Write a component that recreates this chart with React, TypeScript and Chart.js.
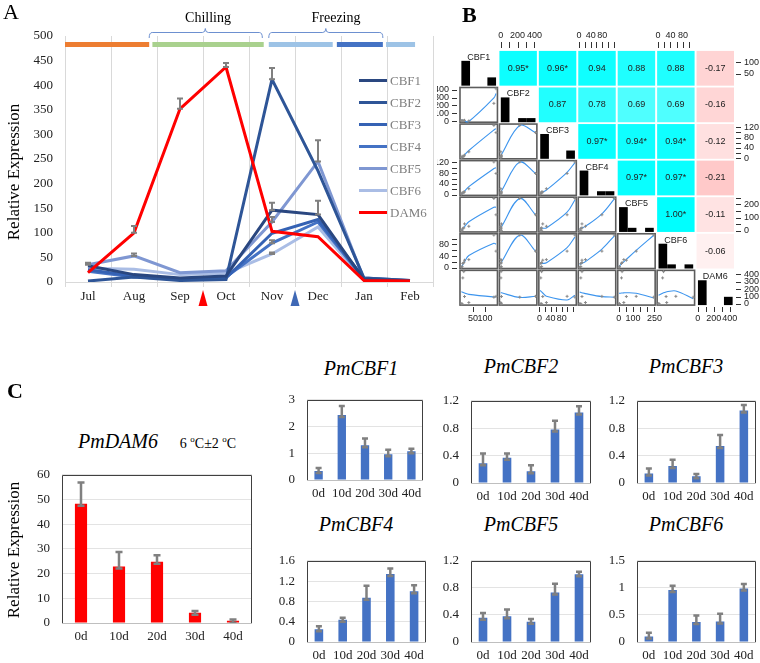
import React, { useEffect, useRef } from 'react';
import { Chart, registerables } from 'chart.js';

Chart.register(...registerables);

const SERIF = '"Liberation Serif", "Times New Roman", serif';
const SANS = '"Liberation Sans", Arial, sans-serif';

// ---------------- Panel A data ----------------
const months = ['Jul', 'Aug', 'Sep', 'Oct', 'Nov', 'Dec', 'Jan', 'Feb'];
const cbf1 = [33, 15, 8, 12, 146, 137, 5, 2];
const cbf2 = [2, 10, 3, 5, 412, 226, 8, 3];
const cbf3 = [25, 12, 5, 8, 99, 127, 8, 3];
const cbf4 = [22, 10, 6, 10, 79, 122, 6, 2];
const cbf5 = [35, 53, 19, 23, 122, 245, 5, 2];
const cbf6 = [28, 26, 15, 18, 57, 112, 4, 2];
const dam6 = [19, 100, 352, 437, 103, 92, 3, 2];

const cbf1Err = [0, 0, 0, 0, 15, 28, 0, 0];
const cbf2Err = [0, 0, 0, 0, 23, 0, 0, 0];
const cbf3Err = [0, 0, 0, 0, 0, 0, 0, 0];
const cbf4Err = [0, 0, 0, 0, 6, 0, 0, 0];
const cbf5Err = [4, 5, 0, 0, 10, 43, 0, 0];
const cbf6Err = [0, 0, 0, 0, 3, 0, 0, 0];
const dam6Err = [0, 14, 21, 8, 0, 0, 0, 0];

const seriesNames = ['CBF1', 'CBF2', 'CBF3', 'CBF4', 'CBF5', 'CBF6', 'DAM6'];
const seriesColors = ['#2A4780', '#2E5597', '#3562B4', '#4472C4', '#7F97D2', '#AABDE5', '#FF0000'];

const periodStarts = [-0.5, 1.4, 3.93, 5.41, 6.48];
const periodEnds = [1.33, 3.82, 5.32, 6.41, 7.11];
const periodColors = ['#ED7D31', '#A9D18E', '#9DC3E6', '#4472C4', '#9DC3E6'];
const bracketStarts = [1.33, 3.93];
const bracketEnds = [3.79, 6.41];
const bracketPeaks = [2.55, 5.17];
const markerPositions = [2.5, 4.5];
const markerColors = ['#FF0000', '#3F68B5'];

// ---------------- Panel B data ----------------
const corrRow1 = ['0.95*', '0.96*', '0.94', '0.88', '0.88', '-0.17'];
const corrRow2 = ['0.87', '0.78', '0.69', '0.69', '-0.16'];
const corrRow3 = ['0.97*', '0.94*', '0.94*', '-0.12'];
const corrRow4 = ['0.97*', '0.97*', '-0.21'];
const corrRow5 = ['1.00*', '-0.11'];
const corrRow6 = ['-0.06'];
const corrRows = [corrRow1, corrRow2, corrRow3, corrRow4, corrRow5, corrRow6];

const histCBF1 = [6, 0, 0, 2];
const histCBF2 = [6, 0, 1, 1];
const histCBF3 = [6, 0, 0, 2];
const histCBF4 = [6, 0, 1, 1];
const histCBF5 = [6, 1, 0, 1];
const histCBF6 = [6, 1, 0, 1];
const histDAM6 = [6, 0, 0, 2];
const histCounts = [histCBF1, histCBF2, histCBF3, histCBF4, histCBF5, histCBF6, histDAM6];

const topAxisCols = [1, 3, 5];
const topAxisTicks = [[0, 100, 200, 300, 400], [0, 20, 40, 60, 80, 100, 120], [0, 20, 40, 60, 80, 100]];
const topAxisLabels = [[0, 200, 400], [0, 40, 80], [0, 40, 80]];
const bottomAxisCols = [0, 2, 4, 6];
const bottomAxisTicks = [[50, 100], [0, 20, 40, 60, 80, 100, 120], [0, 50, 100, 150, 200, 250], [0, 100, 200, 300, 400]];
const bottomAxisLabels = [[50, 100], [0, 40, 80], [0, 100, 250], [0, 200, 400]];
const leftAxisRows = [1, 3, 5];
const leftAxisTicks = [[0, 100, 200, 300, 400], [0, 20, 40, 60, 80, 100, 120], [0, 20, 40, 60, 80, 100]];
const leftAxisLabels = [[0, 100, 200, 300, 400], [0, 40, 80, 120], [0, 40, 80]];
const rightAxisRows = [0, 2, 4, 6];
const rightAxisTicks = [[50, 100], [0, 20, 40, 60, 80, 100, 120], [0, 50, 100, 150, 200, 250], [0, 100, 200, 300, 400]];
const rightAxisLabels = [[50, 100], [0, 40, 80, 120], [0, 100, 200], [0, 100, 200, 300, 400]];

// ---------------- Panel C data ----------------
const days = ['0d', '10d', '20d', '30d', '40d'];
const pmDAM6 = [48.3, 22.9, 24.8, 4.1, 0.9];
const pmDAM6Err = [8.6, 5.8, 2.6, 0.8, 0.5];
const pmCBF1 = [0.34, 2.43, 1.3, 0.96, 1.08];
const pmCBF1Err = [0.11, 0.34, 0.25, 0.17, 0.09];
const pmCBF2 = [0.29, 0.37, 0.17, 0.78, 1.03];
const pmCBF2Err = [0.14, 0.06, 0.09, 0.13, 0.09];
const pmCBF3 = [0.14, 0.25, 0.1, 0.54, 1.06];
const pmCBF3Err = [0.07, 0.09, 0.03, 0.16, 0.08];
const pmCBF4 = [0.25, 0.44, 0.87, 1.34, 1.0];
const pmCBF4Err = [0.06, 0.04, 0.24, 0.11, 0.12];
const pmCBF5 = [0.36, 0.38, 0.3, 0.73, 1.0];
const pmCBF5Err = [0.07, 0.1, 0.04, 0.13, 0.04];
const pmCBF6 = [0.1, 0.96, 0.37, 0.38, 0.99];
const pmCBF6Err = [0.07, 0.08, 0.12, 0.14, 0.08];

// ---------------- plugins ----------------
const errorBarPlugin = {
  id: 'errorBars',
  afterDatasetsDraw(chart: any) {
    const { ctx } = chart;
    const ys = chart.scales.y;
    chart.data.datasets.forEach((ds: any, di: number) => {
      if (!ds.err) return;
      const meta = chart.getDatasetMeta(di);
      ctx.save();
      ctx.strokeStyle = '#808080';
      ctx.lineWidth = ds.errWidth || 2;
      meta.data.forEach((el: any, i: number) => {
        const e = ds.err[i];
        if (!e) return;
        const v = ds.data[i];
        const x = el.x;
        const y0 = ys.getPixelForValue(v) + (ds.errBase || 0);
        const y1 = ys.getPixelForValue(v + e);
        const cw = ds.capHalf || 3;
        ctx.beginPath();
        ctx.moveTo(x, y0);
        ctx.lineTo(x, y1);
        ctx.moveTo(x - cw, y1);
        ctx.lineTo(x + cw, y1);
        ctx.moveTo(x - cw, y0);
        ctx.lineTo(x + cw, y0);
        ctx.stroke();
      });
      ctx.restore();
    });
  },
};

const boxPlugin = {
  id: 'box',
  afterDraw(chart: any) {
    const { ctx, chartArea: a } = chart;
    ctx.save();
    ctx.lineWidth = 1;
    ctx.strokeStyle = '#BFBFBF';
    ctx.beginPath();
    ctx.moveTo(a.left, Math.round(a.bottom) + 0.5);
    ctx.lineTo(a.right, Math.round(a.bottom) + 0.5);
    ctx.stroke();
    ctx.strokeStyle = '#404040';
    ctx.beginPath();
    ctx.moveTo(Math.round(a.left) + 0.5, a.bottom);
    ctx.lineTo(Math.round(a.left) + 0.5, Math.round(a.top) + 0.5);
    ctx.lineTo(Math.round(a.right) - 0.5, Math.round(a.top) + 0.5);
    ctx.lineTo(Math.round(a.right) - 0.5, a.bottom);
    ctx.stroke();
    ctx.restore();
  },
};

const periodPlugin = {
  id: 'periods',
  beforeDatasetsDraw(chart: any) {
    const { ctx, chartArea } = chart;
    const xs = chart.scales.x;
    const top = chartArea.top;
    ctx.save();
    periodStarts.forEach((s, i) => {
      const x0 = xs.getPixelForValue(s);
      const x1 = xs.getPixelForValue(periodEnds[i]);
      ctx.fillStyle = periodColors[i];
      ctx.fillRect(x0, top + 6, x1 - x0, 5);
    });
    ctx.strokeStyle = '#6D90D0';
    ctx.lineWidth = 1;
    bracketStarts.forEach((s, i) => {
      const x0 = xs.getPixelForValue(s);
      const x1 = xs.getPixelForValue(bracketEnds[i]);
      const xm = xs.getPixelForValue(bracketPeaks[i]);
      const yb = top - 3.5;
      ctx.beginPath();
      ctx.moveTo(x0, top + 2);
      ctx.quadraticCurveTo(x0, yb, x0 + 3, yb);
      ctx.lineTo(xm - 3, yb);
      ctx.quadraticCurveTo(xm, yb, xm, yb - 4);
      ctx.quadraticCurveTo(xm, yb, xm + 3, yb);
      ctx.lineTo(x1 - 3, yb);
      ctx.quadraticCurveTo(x1, yb, x1, top + 2);
      ctx.stroke();
    });
    ctx.restore();
  },
  afterDraw(chart: any) {
    const { ctx, chartArea } = chart;
    const xs = chart.scales.x;
    ctx.save();
    markerPositions.forEach((p, i) => {
      const x = xs.getPixelForValue(p);
      const y0 = chartArea.bottom + 8;
      const y1 = chartArea.bottom + 24;
      ctx.fillStyle = markerColors[i];
      ctx.beginPath();
      ctx.moveTo(x, y0);
      ctx.lineTo(x + 4.5, y1);
      ctx.lineTo(x - 4.5, y1);
      ctx.closePath();
      ctx.fill();
    });
    ctx.restore();
  },
};

// ---------------- Panel B helpers ----------------
const bSeries = [cbf1, cbf2, cbf3, cbf4, cbf5, cbf6, dam6];
const G = 0.025;
const ranges = bSeries.map((s) => {
  const mn = Math.min(...s);
  const mx = Math.max(...s);
  const d = (mx - mn) * 0.04;
  return { mn, mx, lo: mn - d, hi: mx + d };
});
const frac = (g: number, v: number) => (v - ranges[g].lo) / (ranges[g].hi - ranges[g].lo);
const ux = (c: number, f: number) => c + G + f * (1 - 2 * G);
const uy = (r: number, f: number) => r + G + (1 - f) * (1 - 2 * G);

function quadFit(xs: number[], ys: number[]) {
  const S = [[0, 0, 0], [0, 0, 0], [0, 0, 0]];
  const T = [0, 0, 0];
  xs.forEach((x, k) => {
    const p = [1, x, x * x];
    for (let a = 0; a < 3; a++) {
      for (let b = 0; b < 3; b++) S[a][b] += p[a] * p[b];
      T[a] += p[a] * ys[k];
    }
  });
  const M = S.map((row, i) => [...row, T[i]]);
  for (let i = 0; i < 3; i++) {
    let piv = i;
    for (let r = i + 1; r < 3; r++) if (Math.abs(M[r][i]) > Math.abs(M[piv][i])) piv = r;
    [M[i], M[piv]] = [M[piv], M[i]];
    if (Math.abs(M[i][i]) < 1e-12) return [ys.reduce((a, b) => a + b, 0) / ys.length, 0, 0];
    for (let r = 0; r < 3; r++) {
      if (r === i) continue;
      const f = M[r][i] / M[i][i];
      for (let c = i; c < 4; c++) M[r][c] -= f * M[i][c];
    }
  }
  return [M[0][3] / M[0][0], M[1][3] / M[1][1], M[2][3] / M[2][2]];
}

function corrColor(v: number) {
  const t = Math.min(1, Math.abs(v));
  if (v >= 0) return `rgb(${Math.round(255 * (1 - t))},255,255)`;
  const g = Math.round(255 * (1 - t));
  return `rgb(255,${g},${g})`;
}

const matrixPlugin = {
  id: 'matrix',
  beforeDatasetsDraw(chart: any) {
    const { ctx, chartArea: a } = chart;
    const xs = chart.scales.x;
    const ys = chart.scales.y;
    const X = (u: number) => xs.getPixelForValue(u);
    const Y = (u: number) => ys.getPixelForValue(u);
    const n = 7;
    ctx.save();
    ctx.textAlign = 'center';
    ctx.textBaseline = 'middle';
    for (let r = 0; r < n; r++) {
      for (let c = 0; c < n; c++) {
        const x0 = X(c + G), x1 = X(c + 1 - G), y0 = Y(r + G), y1 = Y(r + 1 - G);
        if (c > r) {
          const lab = corrRows[r][c - r - 1];
          ctx.fillStyle = corrColor(parseFloat(lab));
          ctx.fillRect(x0, y0, x1 - x0, y1 - y0);
          ctx.fillStyle = '#222';
          ctx.font = `9px ${SANS}`;
          ctx.fillText(lab, (x0 + x1) / 2, (y0 + y1) / 2);
        } else if (c === r) {
          const h = histCounts[r];
          const { mn, mx } = ranges[r];
          const w = (mx - mn) / h.length;
          const maxC = Math.max(...h);
          ctx.fillStyle = '#000';
          h.forEach((cnt, k) => {
            if (!cnt) return;
            const bx0 = X(ux(r, frac(r, mn + k * w)));
            const bx1 = X(ux(r, frac(r, mn + (k + 1) * w)));
            const by1 = Y(r + 1 - G);
            const by0 = Y(r + 1 - G - (cnt / (maxC * 1.4)) * (1 - 2 * G));
            ctx.fillRect(bx0, by0, bx1 - bx0, by1 - by0);
          });
          ctx.fillStyle = '#222';
          ctx.font = `9px ${SANS}`;
          ctx.fillText(seriesNames[r], X(r + 0.5), Y(r + 0.2));
        } else {
          ctx.strokeStyle = '#5c5c5c';
          ctx.lineWidth = 1.6;
          ctx.strokeRect(x0, y0, x1 - x0, y1 - y0);
        }
      }
    }
    // outer axes
    ctx.strokeStyle = '#333';
    ctx.lineWidth = 1;
    ctx.fillStyle = '#222';
    ctx.font = `9px ${SANS}`;
    const vline = (x: number, yA: number, yB: number) => {
      const px = Math.round(x) + 0.5;
      ctx.beginPath(); ctx.moveTo(px, yA); ctx.lineTo(px, yB); ctx.stroke();
    };
    const hline = (y: number, xA: number, xB: number) => {
      const py = Math.round(y) + 0.5;
      ctx.beginPath(); ctx.moveTo(xA, py); ctx.lineTo(xB, py); ctx.stroke();
    };
    topAxisCols.forEach((c, i) => {
      topAxisTicks[i].forEach((v) => vline(X(ux(c, frac(c, v))), a.top - 8, a.top - 2));
      ctx.textAlign = 'center';
      topAxisLabels[i].forEach((v) => ctx.fillText(String(v), X(ux(c, frac(c, v))), a.top - 14));
    });
    bottomAxisCols.forEach((c, i) => {
      bottomAxisTicks[i].forEach((v) => vline(X(ux(c, frac(c, v))), a.bottom + 1, a.bottom + 6));
      ctx.textAlign = 'center';
      bottomAxisLabels[i].forEach((v) => ctx.fillText(String(v), X(ux(c, frac(c, v))), a.bottom + 13));
    });
    leftAxisRows.forEach((r, i) => {
      leftAxisTicks[i].forEach((v) => hline(Y(uy(r, frac(r, v))), a.left - 7, a.left - 2));
      ctx.textAlign = 'right';
      leftAxisLabels[i].forEach((v) => ctx.fillText(String(v), a.left - 10, Y(uy(r, frac(r, v)))));
    });
    rightAxisRows.forEach((r, i) => {
      rightAxisTicks[i].forEach((v) => hline(Y(uy(r, frac(r, v))), a.right + 1, a.right + 6));
      ctx.textAlign = 'left';
      rightAxisLabels[i].forEach((v) => ctx.fillText(String(v), a.right + 9, Y(uy(r, frac(r, v)))));
    });
    ctx.restore();
  },
};

// ---------------- configs ----------------
function panelAConfig() {
  const vals = [cbf1, cbf2, cbf3, cbf4, cbf5, cbf6, dam6];
  const errs = [cbf1Err, cbf2Err, cbf3Err, cbf4Err, cbf5Err, cbf6Err, dam6Err];
  const order = [6, 0, 1, 2, 3, 4, 5];
  const datasets = order.map((k) => ({
    label: seriesNames[k],
    data: vals[k],
    err: errs[k],
    capHalf: 3,
    errWidth: 2,
    borderColor: seriesColors[k],
    backgroundColor: seriesColors[k],
    borderWidth: 3,
    pointRadius: 0,
    tension: 0,
    fill: false,
  }));
  return {
    type: 'line',
    data: { labels: months, datasets },
    options: {
      responsive: false,
      animation: false,
      devicePixelRatio: 1,
      layout: { padding: { left: 0, top: 36, right: 4, bottom: 0 } },
      plugins: { legend: { display: false }, tooltip: { enabled: false }, title: { display: false } },
      scales: {
        x: {
          offset: true,
          grid: { offset: true, color: '#D9D9D9', tickLength: 5, drawTicks: true },
          border: { color: '#D9D9D9' },
          ticks: { font: { family: SERIF, size: 13 }, color: '#222', padding: 2, autoSkip: false, maxRotation: 0 },
          afterFit: (s: any) => { s.height = 28; },
        },
        y: {
          min: 0,
          max: 500,
          ticks: { stepSize: 50, font: { family: SERIF, size: 13 }, color: '#222', padding: 12 },
          grid: { display: false, drawTicks: false },
          border: { display: false },
          afterFit: (s: any) => { s.width = 65; },
        },
      },
    },
    plugins: [periodPlugin, errorBarPlugin],
  };
}

function panelBConfig() {
  const datasets: any[] = [];
  for (let r = 1; r < 7; r++) {
    for (let c = 0; c < r; c++) {
      const xv = bSeries[c];
      const yv = bSeries[r];
      const pts = xv.map((x, k) => ({ x: ux(c, frac(c, x)), y: uy(r, frac(r, yv[k])) }));
      datasets.push({
        type: 'scatter',
        data: pts,
        pointStyle: 'cross',
        pointRadius: 1.5,
        borderColor: '#8a8a8a',
        backgroundColor: '#8a8a8a',
        borderWidth: 1,
        showLine: false,
      });
      const fx = xv.map((x) => frac(c, x));
      const fy = yv.map((y) => frac(r, y));
      const coef = quadFit(fx, fy);
      const sorted = Array.from(new Set(fx)).sort((p, q) => p - q);
      const fitPts = sorted.map((f) => {
        let v = coef[0] + coef[1] * f + coef[2] * f * f;
        v = Math.max(0.02, Math.min(0.98, v));
        return { x: ux(c, f), y: uy(r, v) };
      });
      datasets.push({
        type: 'scatter',
        data: fitPts,
        showLine: true,
        pointRadius: 0,
        borderColor: '#3D95EE',
        borderWidth: 1.1,
        tension: 0.35,
        fill: false,
      });
    }
  }
  return {
    type: 'scatter',
    data: { datasets },
    options: {
      responsive: false,
      animation: false,
      devicePixelRatio: 1,
      layout: { padding: { left: 29, top: 50, right: 25, bottom: 24 } },
      plugins: { legend: { display: false }, tooltip: { enabled: false } },
      scales: {
        x: { type: 'linear', min: 0, max: 7, display: false },
        y: { type: 'linear', min: 0, max: 7, reverse: true, display: false },
      },
    },
    plugins: [matrixPlugin],
  };
}

function barConfig(values: number[], errs: number[], color: string, yMax: number, yStep: number,
  m: { l: number; t: number; r: number; b: number }, barPct: number, cap: number) {
  return {
    type: 'bar',
    data: {
      labels: days,
      datasets: [{
        data: values,
        err: errs,
        errBase: 2,
        capHalf: cap,
        errWidth: 2.5,
        backgroundColor: color,
        barPercentage: barPct,
        categoryPercentage: 1,
      }],
    },
    options: {
      responsive: false,
      animation: false,
      devicePixelRatio: 1,
      layout: { padding: { left: 0, top: m.t, right: m.r, bottom: 0 } },
      plugins: { legend: { display: false }, tooltip: { enabled: false }, title: { display: false } },
      scales: {
        x: {
          grid: { display: false, drawTicks: false },
          border: { display: false },
          ticks: { font: { family: SERIF, size: 13 }, color: '#222', padding: 6, autoSkip: false, maxRotation: 0 },
          afterFit: (s: any) => { s.height = m.b; },
        },
        y: {
          min: 0,
          max: yMax,
          ticks: {
            stepSize: yStep,
            font: { family: SERIF, size: 13 },
            color: '#222',
            padding: 12,
            callback: (v: any) => String(+(+v).toFixed(2)),
          },
          grid: { color: '#E3E3E3', drawTicks: false },
          border: { display: false },
          afterFit: (s: any) => { s.width = m.l; },
        },
      },
    },
    plugins: [errorBarPlugin, boxPlugin],
  };
}

// ---------------- components ----------------
function ChartBox({ left, top, width, height, make, z, bg }: any) {
  const ref = useRef<HTMLCanvasElement | null>(null);
  useEffect(() => {
    if (!ref.current) return;
    const chart = new Chart(ref.current, make());
    return () => chart.destroy();
  }, []);
  return (
    <div style={{ position: 'absolute', left, top, width, height, zIndex: z || 0, background: bg || 'transparent' }}>
      <canvas ref={ref} width={width} height={height} style={{ display: 'block', width, height }} />
    </div>
  );
}

function Label({ x, y, children, size = 13, family = SERIF, italic = false, bold = false, color = '#000', rotate = 0, align = 'center' }: any) {
  const tx = align === 'center' ? '-50%' : align === 'left' ? '0%' : '-100%';
  return (
    <div
      style={{
        position: 'absolute',
        left: x,
        top: y,
        transform: `translate(${tx},-50%) rotate(${rotate}deg)`,
        fontFamily: family,
        fontSize: size,
        fontStyle: italic ? 'italic' : 'normal',
        fontWeight: bold ? 'bold' : 'normal',
        color,
        whiteSpace: 'nowrap',
        lineHeight: 1,
        zIndex: 5,
      }}
    >
      {children}
    </div>
  );
}

export default function App() {
  const legendY = [80, 102, 124, 146, 168, 190, 212];
  const small = [
    { key: 'c1', left: 270, top: 380, width: 160, height: 125, v: pmCBF1, e: pmCBF1Err, max: 3, step: 1, m: { l: 37, t: 12, r: 7, b: 25 }, title: 'PmCBF1', tx: 361, ty: 368 },
    { key: 'c2', left: 434, top: 381, width: 164, height: 127, v: pmCBF2, e: pmCBF2Err, max: 1.2, step: 0.4, m: { l: 37, t: 12, r: 7, b: 25 }, title: 'PmCBF2', tx: 521, ty: 366 },
    { key: 'c3', left: 600, top: 381, width: 160, height: 127, v: pmCBF3, e: pmCBF3Err, max: 1.2, step: 0.4, m: { l: 37, t: 12, r: 4, b: 25 }, title: 'PmCBF3', tx: 686, ty: 366 },
    { key: 'c4', left: 270, top: 541, width: 163, height: 122, v: pmCBF4, e: pmCBF4Err, max: 1.6, step: 0.4, m: { l: 37, t: 12, r: 7, b: 21 }, title: 'PmCBF4', tx: 356, ty: 524 },
    { key: 'c5', left: 434, top: 541, width: 164, height: 122, v: pmCBF5, e: pmCBF5Err, max: 1.2, step: 0.4, m: { l: 37, t: 12, r: 7, b: 21 }, title: 'PmCBF5', tx: 521, ty: 524 },
    { key: 'c6', left: 600, top: 541, width: 160, height: 122, v: pmCBF6, e: pmCBF6Err, max: 1.5, step: 0.5, m: { l: 37, t: 12, r: 4, b: 21 }, title: 'PmCBF6', tx: 686, ty: 524 },
  ];
  return (
    <div style={{ position: 'absolute', left: 0, top: 0, width: 760, height: 663, background: '#fff', overflow: 'hidden' }}>
      {/* Panel B */}
      <ChartBox left={430} top={0} width={330} height={330} make={panelBConfig} z={0} />
      {/* Panel A */}
      <ChartBox left={0} top={0} width={437} height={310} make={panelAConfig} z={1} bg="#fff" />
      <Label x={3} y={12} size={22} align="left">A</Label>
      <Label x={462} y={15} size={22} bold align="left">B</Label>
      <Label x={7} y={391} size={22} bold align="left">C</Label>
      <Label x={208} y={18} size={14}>Chilling</Label>
      <Label x={336} y={18} size={14}>Freezing</Label>
      <Label x={13} y={172} size={17} rotate={-90}>Relative Expression</Label>
      {seriesNames.map((n, k) => (
        <React.Fragment key={n}>
          <div style={{ position: 'absolute', left: 359, top: legendY[k] - 1.5, width: 28, height: 3, background: seriesColors[k], zIndex: 5 }} />
          <Label x={390} y={legendY[k]} size={13} color="#7F7F7F" align="left">{n}</Label>
        </React.Fragment>
      ))}

      {/* Panel C */}
      <ChartBox left={0} top={455} width={262} height={200}
        make={() => barConfig(pmDAM6, pmDAM6Err, '#FF0000', 60, 10, { l: 62, t: 12, r: 10, b: 32 }, 0.32, 3.5)} />
      <Label x={13} y={550} size={17} rotate={-90}>Relative Expression</Label>
      <Label x={118} y={441} size={20} italic>PmDAM6</Label>
      <Label x={208} y={443} size={14}>
        6 <sup style={{ fontSize: 9 }}>o</sup>C±2 <sup style={{ fontSize: 9 }}>o</sup>C
      </Label>
      {small.map((s) => (
        <React.Fragment key={s.key}>
          <ChartBox left={s.left} top={s.top} width={s.width} height={s.height}
            make={() => barConfig(s.v, s.e, '#4472C4', s.max, s.step, s.m, 0.36, 3)} />
          <Label x={s.tx} y={s.ty} size={20} italic>{s.title}</Label>
        </React.Fragment>
      ))}
    </div>
  );
}
